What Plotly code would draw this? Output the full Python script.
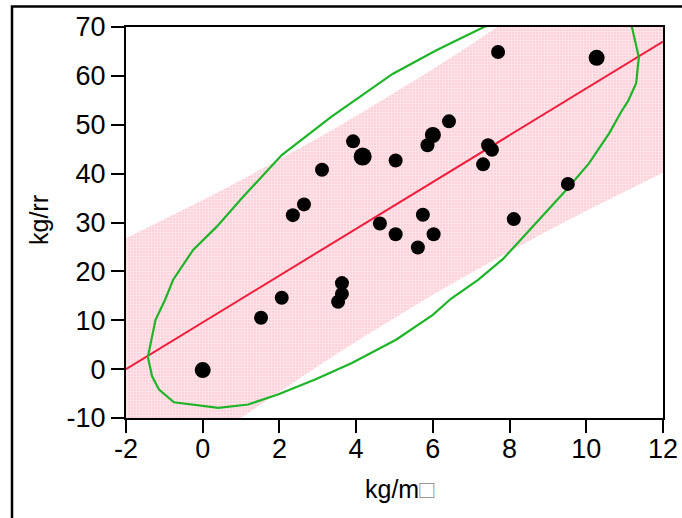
import plotly.graph_objects as go

# ---- data ----
pt_x = [0.0, 1.52, 2.06, 2.35, 2.64, 3.11, 3.53, 3.63, 3.63, 3.92, 4.17, 4.62, 5.03, 5.03,
        5.61, 5.74, 5.86, 6.02, 6.0, 6.42, 7.31, 7.44, 7.54, 7.7, 8.11, 9.52, 10.27]
pt_y = [-0.2, 10.5, 14.6, 31.5, 33.7, 40.8, 13.8, 15.4, 17.6, 46.6, 43.5, 29.8, 27.6, 42.7,
        24.9, 31.6, 45.8, 27.6, 47.9, 50.7, 41.9, 45.8, 44.9, 64.9, 30.7, 37.9, 63.7]
pt_weight = [2, 1, 1, 1, 1, 1, 1, 1, 1, 1, 3, 1, 1, 1,
             1, 1, 1, 1, 2, 1, 1, 1, 1, 1, 1, 1, 2]

fit_x = [-2, 12]
fit_y = [0.0, 67.0]

band_x = [-2, -1, 0, 1, 2, 3, 4, 5, 6, 7, 8, 9, 10, 11, 12]
band_upper = [26.8, 30.64, 34.58, 38.67, 42.88, 47.26, 51.79, 56.5, 61.37, 66.40, 71.60, 76.95, 82.44, 88.06, 93.8]
band_lower = [-26.8, -21.06, -15.44, -9.95, -4.60, 0.60, 5.63, 10.5, 15.21, 19.74, 24.12, 28.33, 32.42, 36.36, 40.2]

ell_x = [-1.43, -1.23, -0.98, -0.77, -0.25, 0.36, 1.06, 2.06, 3.35, 3.97, 4.95, 6.08, 7.33, 7.98, 9.53,
         10.69, 11.19, 11.37, 11.3, 11.1, 10.9, 10.6, 10.07, 9.47, 8.69, 7.83, 7.18, 6.47, 6.0, 5.04,
         3.89, 2.93, 1.96, 1.18, 0.41, -0.75, -1.14, -1.32, -1.43]
ell_y = [2.5, 10.1, 14.2, 18.3, 24.4, 29.1, 35.3, 43.8, 51.6, 55.0, 60.4, 65.2, 70.0, 71.5, 74.2,
         73.1, 70.0, 63.8, 58.5, 55.0, 52.5, 48.3, 42.1, 36.6, 29.9, 22.55, 18.27, 14.4, 11.1, 6.02,
         1.27, -2.14, -5.2, -7.24, -7.92, -6.78, -4.18, -1.47, 2.5]

x_ticks = [-2, 0, 2, 4, 6, 8, 10, 12]
x_ticklabels = ["-2", "0", "2", "4", "6", "8", "10", "12"]
y_ticks = [-10, 0, 10, 20, 30, 40, 50, 60, 70]
y_ticklabels = ["-10", "0", "10", "20", "30", "40", "50", "60", "70"]

x_title = "kg/m<span style='color:#999999'>□</span>"
y_title = "kg/rr"

# ---- styles ----
size_map = {1: 14, 2: 16, 3: 18}
FONT = "Liberation Sans, Arial, sans-serif"
L, R, T, B = 126, 663, 26.5, 418.5   # plot-area edges in pixels
PW, PH = R - L, B - T


def px_x(p):
    return (p - L) / PW


def px_y(p):
    return (B - p) / PH


fig = go.Figure()

fig.add_trace(go.Scatter(
    x=band_x + band_x[::-1], y=band_upper + band_lower[::-1],
    mode="lines", fill="toself", line=dict(width=0),
    fillcolor="rgb(255,214,222)",
    fillpattern=dict(shape="+", fgcolor="white", bgcolor="rgb(255,210,218)", size=3, solidity=0.45),
    hoverinfo="skip", showlegend=False))

fig.add_trace(go.Scatter(x=fit_x, y=fit_y, mode="lines",
                         line=dict(color="rgb(240,30,60)", width=2), showlegend=False))

fig.add_trace(go.Scatter(x=ell_x, y=ell_y, mode="lines",
                         line=dict(color="rgb(30,180,40)", width=2.2), showlegend=False))

fig.add_trace(go.Scatter(x=pt_x, y=pt_y, mode="markers",
                         marker=dict(color="#000000", opacity=1, size=[size_map[w] for w in pt_weight],
                                     line=dict(width=0)),
                         showlegend=False))

axis_common = dict(showgrid=False, zeroline=False, showline=True, linecolor="black", linewidth=2,
                   mirror=True, ticks="outside", ticklen=13, tickwidth=2, tickcolor="black",
                   automargin=False,
                   tickfont=dict(family=FONT, size=27, color="black"))

fig.update_layout(
    width=682, height=518,
    margin=dict(l=L, r=682 - R, t=T, b=518 - B, autoexpand=False),
    paper_bgcolor="white", plot_bgcolor="white",
    xaxis=dict(range=[-2, 12], tickvals=x_ticks, ticktext=x_ticklabels, ticklabelstandoff=-7,
               **axis_common),
    yaxis=dict(range=[-10, 70], tickvals=y_ticks, ticktext=y_ticklabels, **axis_common),
    annotations=[
        dict(text=x_title, xref="paper", yref="paper", x=px_x(400), y=px_y(490),
             xanchor="center", yanchor="middle", showarrow=False,
             font=dict(family=FONT, size=25, color="black")),
        dict(text=y_title, xref="paper", yref="paper", x=px_x(39), y=px_y(220),
             xanchor="center", yanchor="middle", showarrow=False, textangle=-90,
             font=dict(family=FONT, size=25, color="black")),
    ],
    shapes=[dict(type="rect", xref="paper", yref="paper",
                 x0=px_x(12), x1=px_x(700), y0=px_y(540), y1=px_y(6),
                 line=dict(color="black", width=2.5), layer="below")],
)

fig.write_html("out.html", config={"displayModeBar": False},
               post_script="document.body.style.margin='0';document.body.style.overflow='hidden';")
